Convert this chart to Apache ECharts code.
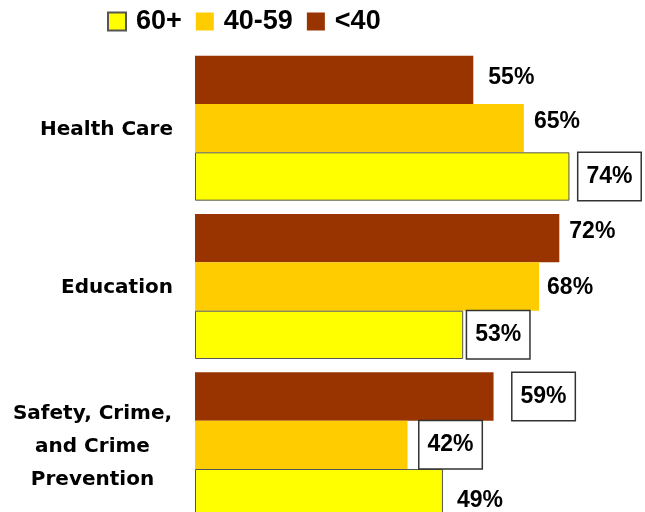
<!DOCTYPE html>
<html>
<head>
<meta charset="utf-8">
<script src="https://cdn.jsdelivr.net/npm/echarts@6/dist/echarts.min.js"></script>
<style>html,body{margin:0;padding:0;background:#fff;overflow:hidden;width:645px;height:512px}#c{width:701px;height:524px}</style>
</head>
<body>
<div id="c"></div>
<script>
// ---- data ----
const categories = ['Health Care', 'Education', 'Safety, Crime,\nand Crime\nPrevention'];
const seriesNames = ['<40', '40-59', '60+'];
const legendOrder = ['60+', '40-59', '<40'];
const under40 = [55, 72, 59];
const age40to59 = [65, 68, 42];
const age60plus = [74, 53, 49];

// ---- label styling (not data) ----
const boxed = {
  '<40': [false, false, true],
  '40-59': [false, false, true],
  '60+': [true, true, false]
};
const labelDistance = {
  '<40': [15, 10, 19],
  '40-59': [10, 8, 12],
  '60+': [9, 4, 14]
};
const labelOffsetY = {
  '<40': [-2, -6, 0],
  '40-59': [-7, 1, 0],
  '60+': [0, 0, 7]
};
const colors = {'<40': '#993300', '40-59': '#FFCC00', '60+': '#FFFF00'};

const valueFont = 'Arial, Helvetica, sans-serif';
const catFont = '"DejaVu Sans", sans-serif';

function buildData(name, values) {
  return values.map((v, i) => {
    const lab = {
      distance: labelDistance[name][i],
      offset: [0, labelOffsetY[name][i]]
    };
    if (boxed[name][i]) {
      Object.assign(lab, {
        borderColor: '#333',
        borderWidth: 1.5,
        backgroundColor: '#fff',
        padding: [12, 8],
        lineHeight: 23
      });
    }
    return { value: v, label: lab };
  });
}

const valuesByName = {'<40': under40, '40-59': age40to59, '60+': age60plus};

const series = seriesNames.map(name => ({
  name: name,
  type: 'bar',
  barGap: '0%',
  barCategoryGap: '8.4%',
  itemStyle: name === '60+'
    ? { color: colors[name], borderColor: '#555', borderWidth: 1 }
    : { color: colors[name] },
  label: {
    show: true,
    position: 'right',
    formatter: '{c}%',
    color: '#000',
    fontFamily: valueFont,
    fontWeight: 'bold',
    fontSize: 23
  },
  data: buildData(name, valuesByName[name])
}));

const chart = echarts.init(document.getElementById('c'), null, {renderer: 'canvas'});
chart.setOption({
  animation: false,
  backgroundColor: '#fff',
  legend: {
    data: legendOrder,
    left: 102,
    top: 3,
    itemWidth: 18,
    itemHeight: 18,
    itemGap: 14,
    icon: 'rect',
    textStyle: {
      fontFamily: valueFont,
      fontWeight: 'bold',
      fontSize: 27,
      color: '#000',
      padding: [0, 0, 0, 5]
    }
  },
  grid: { left: 195, top: 49, right: 0, bottom: 0, containLabel: false },
  xAxis: {
    type: 'value', min: 0, max: 100, show: false
  },
  yAxis: {
    type: 'category',
    inverse: true,
    data: categories,
    axisLine: { show: false },
    axisTick: { show: false },
    splitLine: { show: false },
    axisLabel: {
      margin: 22,
      color: '#000',
      fontFamily: catFont,
      fontWeight: 'bold',
      fontSize: 20,
      lineHeight: 33,
      padding: [3, 0, 0, 0],
      formatter: function (v) {
        if (v.indexOf('\n') < 0) return v;
        return v.split('\n').map(l => '{c|' + l + '}').join('\n');
      },
      rich: {
        c: {
          width: 161,
          align: 'center',
          fontFamily: catFont,
          fontWeight: 'bold',
          fontSize: 20,
          lineHeight: 33,
          color: '#000'
        }
      }
    }
  },
  series: series
});
</script>
</body>
</html>
